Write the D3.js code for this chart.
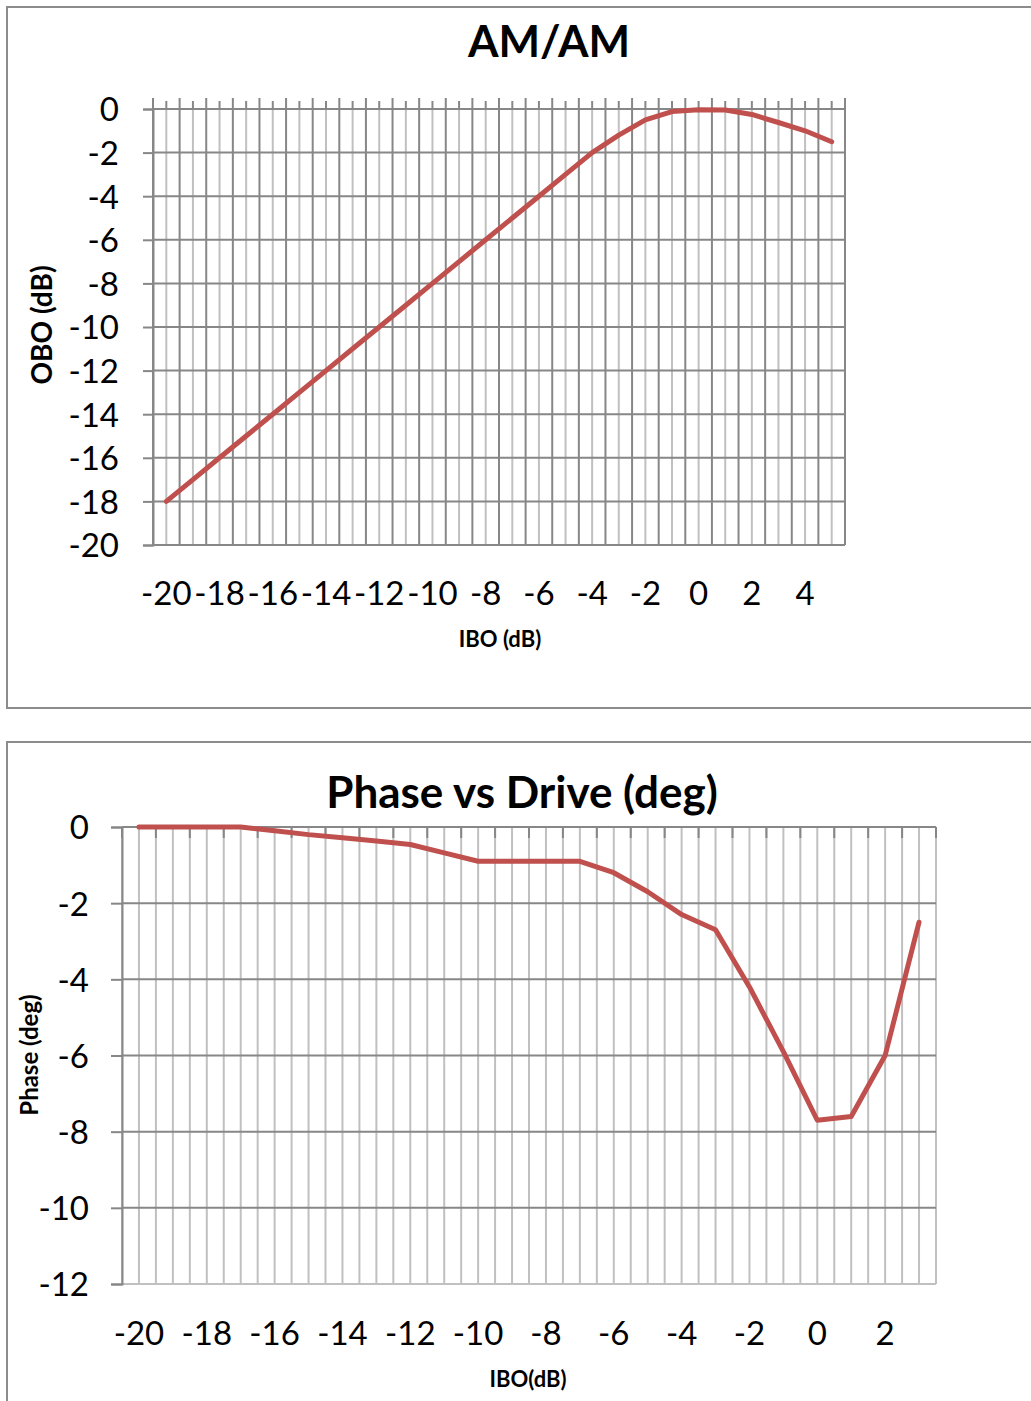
<!DOCTYPE html>
<html>
<head>
<meta charset="utf-8">
<script src="https://cdn.jsdelivr.net/npm/d3@7"></script>
<style>
  body { margin: 0; background: #fff; }
</style>
</head>
<body>
<div id="chart"></div>
<script>
// AM/AM curve (IBO in dB -> OBO in dB)
const amIbo = [-20, -19, -18, -17, -16, -15, -14, -13, -12, -11, -10, -9, -8, -7, -6, -5, -4, -3, -2, -1, 0, 1, 2, 3, 4, 5];
const amObo = [-18, -17, -16, -15, -14, -13, -12, -11, -10, -9, -8, -7, -6, -5, -4, -3, -2, -1.2, -0.5, -0.12, -0.03, -0.05, -0.25, -0.62, -1.0, -1.5];
const amXLabels = [-20, -18, -16, -14, -12, -10, -8, -6, -4, -2, 0, 2, 4];
const amYTicks = [0, -2, -4, -6, -8, -10, -12, -14, -16, -18, -20];

// Phase curve (IBO in dB -> phase in deg)
const phIbo = [-20, -19, -18, -17, -16, -15, -14, -13, -12, -11, -10, -9, -8, -7, -6, -5, -4, -3, -2, -1, 0, 1, 2, 3];
const phDeg = [0, 0, 0, 0, -0.1, -0.2, -0.28, -0.37, -0.46, -0.68, -0.9, -0.9, -0.9, -0.9, -1.2, -1.7, -2.3, -2.7, -4.2, -5.9, -7.7, -7.6, -6.0, -2.5];
const phXLabels = [-20, -18, -16, -14, -12, -10, -8, -6, -4, -2, 0, 2];
const phYTicks = [0, -2, -4, -6, -8, -10, -12];

const FONT = "Lato, 'Open Sans', sans-serif";
const dark = "#878787";
const light = "#c0c0c0";
const red = "#c0504d";

const svg = d3.select("#chart")
    .append("svg")
    .attr("width", 1031)
    .attr("height", 1401);

function drawChart(o) {
    const g = svg.append("g");

    // outer chart frame (runs off the right edge)
    g.append("rect")
        .attr("x", o.frame[0]).attr("y", o.frame[1])
        .attr("width", o.frame[2]).attr("height", o.frame[3])
        .attr("fill", "#fff")
        .attr("stroke", "#8c8c8c")
        .attr("stroke-width", 2);

    const x = d3.scaleBand().domain(o.cats).range([o.left, o.right]);
    const y = d3.scaleLinear().domain([d3.min(o.yTicks), 0]).range([o.bottom, o.top]);
    const bw = x.bandwidth();
    const edges = o.cats.map(d => x(d)).concat([o.right]);
    const mids = o.cats.map(d => x(d) + bw / 2);

    // vertical gridlines: category centres and category edges
    g.selectAll(".vmid")
        .data(mids)
        .enter().append("line")
        .attr("x1", d => d).attr("x2", d => d)
        .attr("y1", o.top).attr("y2", o.bottom)
        .attr("stroke", light).attr("stroke-width", 2);

    g.selectAll(".vedge")
        .data(edges)
        .enter().append("line")
        .attr("x1", d => d).attr("x2", d => d)
        .attr("y1", o.top).attr("y2", o.bottom)
        .attr("stroke", o.edgeColor)
        .attr("stroke-width", 2);

    // horizontal gridlines
    g.selectAll(".hgrid")
        .data(o.yTicks)
        .enter().append("line")
        .attr("x1", o.left).attr("x2", o.right)
        .attr("y1", d => y(d)).attr("y2", d => y(d))
        .attr("stroke", d => (d === d3.min(o.yTicks) ? o.bottomLine : dark))
        .attr("stroke-width", 2);

    // category axis ticks at the zero line
    g.selectAll(".xtick")
        .data(edges)
        .enter().append("line")
        .attr("x1", d => d).attr("x2", d => d)
        .attr("y1", o.top).attr("y2", o.top + o.majorTick)
        .attr("stroke", dark).attr("stroke-width", 2);

    if (o.minorTick) {
        g.selectAll(".xminor")
            .data(mids)
            .enter().append("line")
            .attr("x1", d => d).attr("x2", d => d)
            .attr("y1", o.top).attr("y2", o.top + o.minorTick)
            .attr("stroke", dark).attr("stroke-width", 2);
    }

    // value axis
    const yAxis = g.append("g")
        .attr("transform", `translate(${o.left},0)`)
        .call(d3.axisLeft(y)
            .tickValues(o.yTicks)
            .tickFormat(d => String(d))
            .tickSize(o.yTick)
            .tickPadding(o.yPad));
    yAxis.select(".domain").attr("stroke", dark).attr("stroke-width", 2);
    yAxis.selectAll(".tick line").attr("stroke", dark).attr("stroke-width", 2);
    yAxis.selectAll("text")
        .attr("font-family", FONT)
        .attr("font-size", 33)
        .attr("fill", "#000")
        .attr("dy", "0.36em");

    // top axis line (zero)
    g.append("line")
        .attr("x1", o.left).attr("x2", o.right)
        .attr("y1", o.top).attr("y2", o.top)
        .attr("stroke", dark).attr("stroke-width", 2);

    // category labels, placed low
    const xAxis = g.append("g")
        .attr("transform", `translate(0,${o.labelY})`)
        .call(d3.axisBottom(x)
            .tickValues(o.xLabels)
            .tickFormat(d => String(d))
            .tickSize(0));
    xAxis.select(".domain").remove();
    xAxis.selectAll("text")
        .attr("font-family", FONT)
        .attr("font-size", 33)
        .attr("fill", "#000")
        .attr("y", 0)
        .attr("dy", null);

    // series line
    g.append("path")
        .datum(o.vals)
        .attr("fill", "none")
        .attr("stroke", red)
        .attr("stroke-width", 5)
        .attr("stroke-linejoin", "round")
        .attr("stroke-linecap", "round")
        .attr("d", d3.line()
            .x((d, i) => mids[i])
            .y(d => y(d)));

    // titles
    g.append("text")
        .attr("x", o.title[1]).attr("y", o.title[2])
        .attr("text-anchor", "middle")
        .attr("font-family", FONT)
        .attr("font-weight", "bold")
        .attr("font-size", 44)
        .text(o.title[0]);

    g.append("text")
        .attr("x", o.xTitle[1]).attr("y", o.xTitle[2])
        .attr("text-anchor", "middle")
        .attr("font-family", FONT)
        .attr("font-weight", "bold")
        .attr("font-size", 22)
        .text(o.xTitle[0]);

    g.append("text")
        .attr("transform", `translate(${o.yTitle[1]},${o.yTitle[2]}) rotate(-90)`)
        .attr("text-anchor", "middle")
        .attr("font-family", FONT)
        .attr("font-weight", "bold")
        .attr("font-size", o.yTitle[3])
        .text(o.yTitle[0]);
}

drawChart({
    frame: [7, 7, 1040, 701],
    cats: amIbo, vals: amObo,
    xLabels: amXLabels, yTicks: amYTicks,
    left: 153, right: 845, top: 109, bottom: 545,
    edgeColor: dark, bottomLine: dark,
    majorTick: -11, minorTick: -8,
    yTick: 10, yPad: 24,
    labelY: 605,
    title: ["AM/AM", 549, 57],
    xTitle: ["IBO (dB)", 500, 647],
    yTitle: ["OBO (dB)", 52, 325, 28]
});

drawChart({
    frame: [7, 742, 1040, 700],
    cats: phIbo, vals: phDeg,
    xLabels: phXLabels, yTicks: phYTicks,
    left: 122, right: 936, top: 827, bottom: 1284,
    edgeColor: light, bottomLine: light,
    majorTick: 11, minorTick: 0,
    yTick: 11, yPad: 22,
    labelY: 1345,
    title: ["Phase vs Drive (deg)", 522, 808],
    xTitle: ["IBO(dB)", 528, 1387],
    yTitle: ["Phase (deg)", 38, 1055, 24]
});
</script>
</body>
</html>
